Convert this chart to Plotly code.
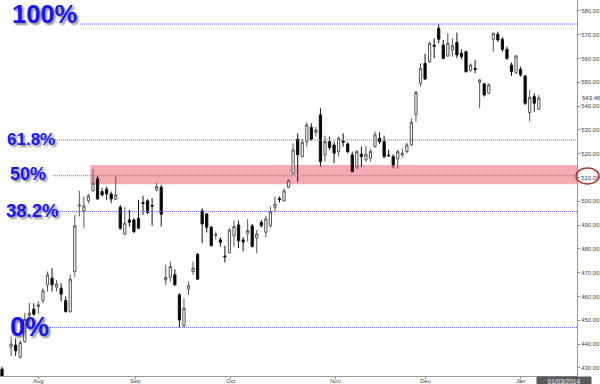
import plotly.graph_objects as go

# ---------------- data ----------------
bar_index = [0] + list(range(2, 119))

opens = [429.5,
    438.7, 439.6, 434.5, 441.0, 452.0, 454.7, 455.8, 458.3, 464.9, 467.7,
    463.9, 463.5, 458.3, 453.7, 470.5, 498.0, 496.1, 500.2, 504.4, 509.5,
    504.1, 505.1, 503.1, 500.9, 497.5, 486.2, 492.2, 492.2, 492.9, 499.5,
    500.2, 498.3, 504.8, 505.9, 467.0, 468.1, 469.1, 460.7, 447.8, 463.1,
    470.5, 477.8, 496.0, 494.7, 489.1, 485.7, 483.8, 477.0, 478.4, 485.5,
    490.1, 483.8, 486.6, 489.7, 484.5, 491.1, 487.0, 489.7, 497.5, 501.1,
    500.2, 505.9, 511.8, 526.1, 518.8, 525.1, 531.1, 529.0, 536.3, 519.5,
    525.1, 523.7, 520.9, 525.3, 524.1, 519.5, 514.6, 519.8, 517.4, 518.1,
    523.0, 526.5, 525.1, 519.4, 518.8, 517.8, 519.5, 520.9, 523.7, 536.6,
    549.6, 558.0, 558.7, 565.6, 572.7, 565.7, 561.1, 563.6, 566.8, 562.2,
    562.9, 554.9, 555.8, 550.0, 549.3, 545.4, 568.1, 570.2, 568.1, 563.9,
    557.3, 554.1, 555.5, 552.7, 537.3, 544.0, 538.7]
highs = [430.5,
    443.2, 442.3, 441.8, 453.0, 457.3, 457.2, 457.9, 463.5, 470.5, 471.9,
    467.0, 465.6, 460.0, 469.1, 494.3, 504.4, 502.0, 503.1, 513.5, 510.7,
    505.5, 506.2, 504.1, 510.4, 498.5, 497.5, 496.4, 492.9, 500.6, 502.3,
    500.9, 501.3, 507.9, 506.9, 473.3, 474.7, 471.5, 461.4, 459.3, 466.3,
    474.7, 478.2, 497.1, 495.0, 489.7, 487.3, 484.9, 481.3, 488.7, 491.9,
    491.9, 484.9, 492.5, 490.5, 488.0, 492.2, 493.9, 497.8, 502.0, 502.0,
    505.5, 509.3, 524.4, 528.6, 526.2, 533.2, 532.8, 531.1, 539.1, 527.6,
    527.2, 525.1, 527.2, 528.6, 524.8, 520.9, 521.6, 523.0, 523.3, 522.0,
    529.3, 529.0, 527.6, 521.6, 519.8, 521.6, 522.0, 524.7, 534.9, 546.4,
    558.0, 562.0, 567.1, 568.5, 574.5, 567.8, 570.6, 568.5, 570.9, 563.9,
    563.3, 558.0, 559.4, 551.3, 549.9, 549.6, 570.9, 571.3, 569.0, 565.0,
    558.3, 561.5, 556.6, 553.1, 546.8, 545.4, 544.7]
lows = [425.0,
    435.0, 435.0, 434.0, 440.6, 449.5, 451.9, 452.7, 457.2, 462.1, 462.1,
    462.1, 457.9, 453.2, 453.2, 468.1, 493.6, 488.7, 499.2, 504.1, 500.6,
    502.0, 500.6, 499.2, 500.6, 488.0, 485.9, 489.4, 486.6, 488.4, 494.3,
    494.6, 489.7, 504.1, 489.4, 464.9, 466.3, 464.5, 447.1, 447.0, 460.7,
    469.1, 467.0, 482.4, 486.9, 481.0, 484.1, 481.0, 474.3, 478.2, 481.0,
    480.3, 478.9, 483.1, 480.7, 478.2, 489.1, 484.9, 489.0, 495.7, 499.5,
    499.9, 505.5, 511.1, 508.3, 518.4, 523.0, 525.4, 527.2, 514.6, 516.7,
    521.6, 516.0, 518.8, 523.0, 520.2, 512.2, 513.6, 514.6, 516.7, 516.7,
    522.6, 524.0, 518.1, 518.8, 513.9, 513.9, 518.4, 520.2, 523.4, 533.5,
    548.2, 551.0, 558.0, 560.1, 566.4, 559.7, 560.8, 560.8, 560.1, 559.7,
    554.1, 554.5, 553.8, 539.1, 544.0, 545.1, 562.9, 567.1, 562.9, 559.4,
    552.7, 553.5, 552.4, 540.5, 533.5, 537.7, 538.4]
closes = [426.0,
    440.0, 437.2, 440.6, 450.4, 453.0, 452.6, 456.5, 462.4, 469.1, 464.9,
    465.2, 461.0, 453.7, 467.3, 489.7, 498.4, 498.1, 502.3, 507.6, 501.0,
    502.7, 503.1, 501.0, 502.7, 488.7, 490.8, 491.2, 487.3, 488.7, 499.1,
    495.3, 498.0, 506.2, 494.6, 468.0, 472.6, 464.9, 450.2, 455.1, 464.5,
    471.9, 467.3, 490.5, 489.1, 481.4, 486.1, 482.8, 476.7, 488.0, 489.4,
    483.4, 482.9, 487.7, 481.0, 486.3, 489.7, 492.6, 495.7, 498.8, 500.8,
    504.4, 508.7, 521.6, 519.6, 524.8, 532.1, 526.1, 530.0, 516.7, 525.1,
    522.6, 520.2, 526.5, 524.9, 520.9, 512.5, 520.9, 518.8, 519.8, 520.9,
    527.9, 525.1, 518.8, 519.1, 515.3, 520.9, 520.2, 523.7, 533.2, 545.8,
    555.9, 551.4, 566.4, 565.2, 568.1, 560.1, 566.4, 565.4, 561.5, 560.8,
    554.5, 557.3, 555.4, 551.0, 544.7, 548.9, 570.6, 567.8, 563.9, 560.1,
    554.5, 561.1, 553.1, 541.2, 543.7, 541.2, 543.46]

month_labels = ["Aug", "Sep", "Oct", "Nov", "Dec", "Jan"]
month_pos = [8.1, 29.45, 50.3, 73.4, 93.0, 114.0]   # bar index of each month start

swing_low = 447.0
swing_high = 574.5
fib_ratios = [1.0, 0.618, 0.5, 0.382, 0.0]
fib_labels = ["100%", "61.8%", "50%", "38.2%", "0%"]

zone_low, zone_high = 507.2, 515.3
zone_start_bar = 20
last_price = 543.46
cursor_date = "01/03/2014"

# ---------------- styling ----------------
PLOT_W = 577.0
PLOT_H = 376.0
fib_font_size = [25.5, 17, 18, 18.5, 27]
fib_text_left = [10, 5, 8, 4, 8]        # px
fib_text_shift = [10, 0, 2, 1, 0]        # px above the level line
fib_line_start = [80, 55, 53, 58, 48]    # px

fig = go.Figure()
fig.add_trace(go.Candlestick(
    x=bar_index, open=opens, high=highs, low=lows, close=closes,
    increasing=dict(line=dict(color="#555555", width=1), fillcolor="#ffffff"),
    decreasing=dict(line=dict(color="#111111", width=1), fillcolor="#000000"),
    whiskerwidth=0, showlegend=False, hoverinfo="skip",
))

shapes = []
# resistance zone
shapes.append(dict(type="rect", xref="x", yref="y",
                   x0=zone_start_bar - 0.6, x1=130, y0=zone_low, y1=zone_high,
                   fillcolor="#f4abb1", line=dict(width=0), layer="below"))
annotations = []
for r, lab, fs, tl, sh, ls in zip(fib_ratios, fib_labels, fib_font_size,
                                  fib_text_left, fib_text_shift, fib_line_start):
    lvl = swing_low + r * (swing_high - swing_low)
    shapes.append(dict(type="line", xref="paper", yref="y",
                       x0=ls / PLOT_W, x1=1.0, y0=lvl, y1=lvl,
                       line=dict(color="#6a6aff", width=1, dash="1px,1px"),
                       layer="above"))
    annotations.append(dict(
        text=lab, xref="paper", yref="y", x=tl / PLOT_W, y=lvl,
        xanchor="left", yanchor="middle", yshift=sh, showarrow=False,
        font=dict(family="Liberation Sans", size=fs, color="#1414ff",
                  weight="bold", shadow="2px 2px 2px rgba(0,0,0,0.45)")))

# red ellipse around the 510 axis label
shapes.append(dict(type="circle", xref="paper", yref="paper",
                   x0=576 / PLOT_W, x1=599 / PLOT_W,
                   y0=1 - 184 / PLOT_H, y1=1 - 168 / PLOT_H,
                   line=dict(color="#b5302a", width=1.5)))

# month labels under the axis
for pos, lab in zip(month_pos, month_labels):
    annotations.append(dict(text=lab, xref="x", yref="paper", x=pos, y=0,
                            xanchor="center", yanchor="middle", yshift=-5,
                            showarrow=False,
                            font=dict(family="Liberation Sans", size=6,
                                      color="#444444")))

# last price label
annotations.append(dict(text=f"{last_price:.2f}", xref="paper", yref="y",
                        x=1.0, y=last_price, xanchor="left", yanchor="middle",
                        xshift=3, showarrow=False,
                        font=dict(family="Liberation Sans", size=6, color="#333333")))
# cursor date box
annotations.append(dict(text=cursor_date, xref="paper", yref="paper",
                        x=564 / PLOT_W, y=0, xanchor="center", yanchor="top",
                        showarrow=False, bgcolor="#5a5a5a", borderpad=0,
                        width=54, height=8, yshift=0,
                        font=dict(family="Liberation Sans", size=6.5,
                                  color="#ffffff")))

fig.update_layout(
    width=600, height=384, autosize=False,
    margin=dict(l=0, r=23, t=0, b=8),
    paper_bgcolor="white", plot_bgcolor="white",
    template="none",
    font=dict(family="Liberation Sans", size=6, color="#444444"),
    shapes=shapes, annotations=annotations,
    xaxis=dict(range=[-0.44, 126.4], tickvals=month_pos,
               ticktext=[""] * len(month_pos),
               ticks="outside", ticklen=2, tickcolor="#888888",
               showline=True, linecolor="#999999", showgrid=False,
               zeroline=False, rangeslider=dict(visible=False),
               automargin=False, tickfont=dict(size=6, color="#444444")),
    yaxis=dict(side="right", range=[426.6, 584.6],
               tickvals=list(range(430, 590, 10)), tickformat=".2f",
               ticks="outside", ticklen=2, tickcolor="#888888",
               showline=True, linecolor="#999999", showgrid=False,
               zeroline=False, automargin=False,
               tickfont=dict(size=6, color="#444444")),
)

fig.write_html("out.html",
               config={"displayModeBar": False, "staticPlot": True},
               post_script="document.body.style.margin='0';"
                           "document.body.style.padding='0';"
                           "document.body.style.overflow='hidden';")
